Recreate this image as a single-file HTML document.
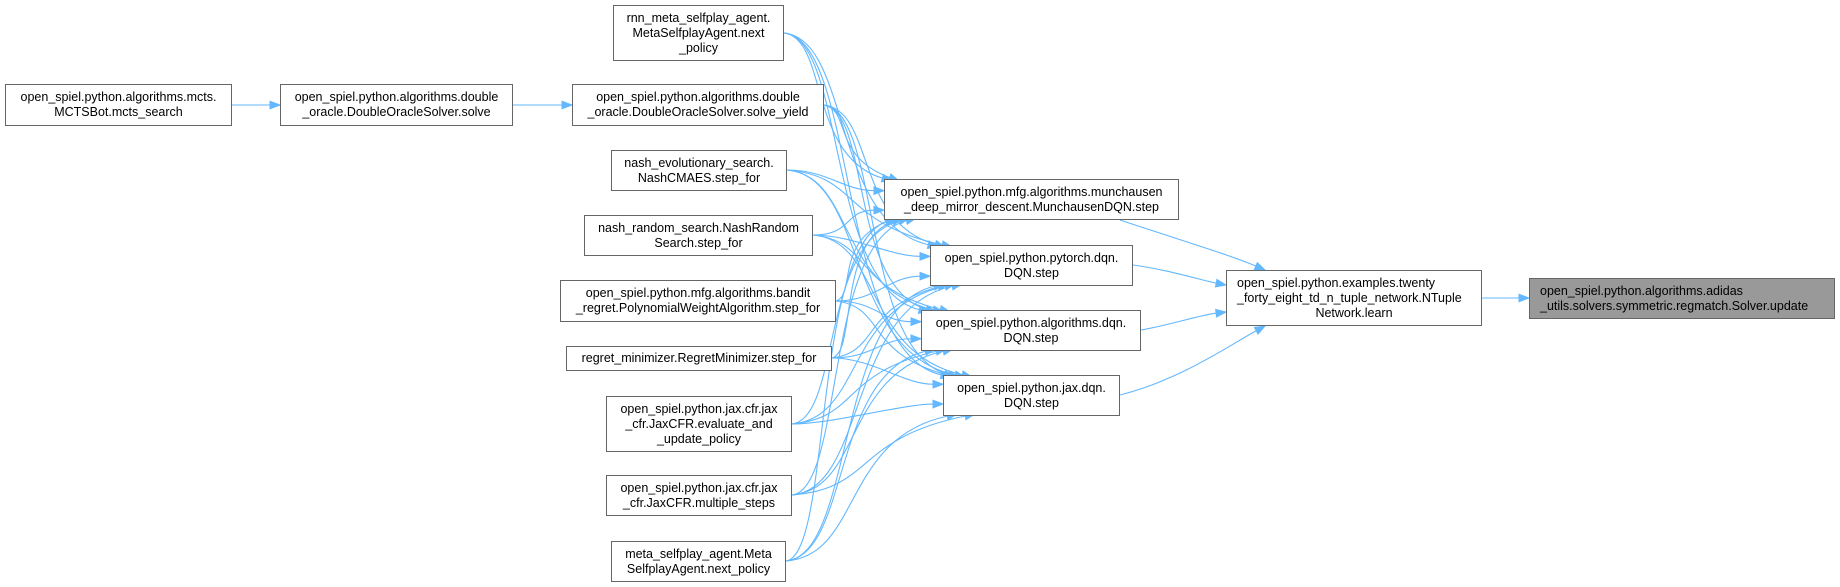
<!DOCTYPE html>
<html><head><meta charset="utf-8">
<style>
body{margin:0;background:#fff;width:1840px;height:587px;overflow:hidden;position:relative;font-family:"Liberation Sans",Arial,sans-serif;}
.n{position:absolute;box-sizing:border-box;border:1.5px solid #666;background:#fff;font-size:12.5px;line-height:15px;color:#000;text-align:center;display:flex;flex-direction:column;justify-content:center;white-space:nowrap;}
.l{text-align:left;padding-left:16px;}
svg{position:absolute;left:0;top:0;}
</style></head><body>
<svg id="s" width="1840" height="587"></svg>
<div class="n" style="left:5px;top:84px;width:227px;height:42px">open_spiel.python.algorithms.mcts.<br>MCTSBot.mcts_search</div>
<div class="n" style="left:280px;top:84px;width:233px;height:42px">open_spiel.python.algorithms.double<br>_oracle.DoubleOracleSolver.solve</div>
<div class="n" style="left:572px;top:84px;width:252px;height:42px">open_spiel.python.algorithms.double<br>_oracle.DoubleOracleSolver.solve_yield</div>
<div class="n" style="left:613px;top:5px;width:171px;height:56px">rnn_meta_selfplay_agent.<br>MetaSelfplayAgent.next<br>_policy</div>
<div class="n" style="left:611px;top:150px;width:176px;height:41px">nash_evolutionary_search.<br>NashCMAES.step_for</div>
<div class="n" style="left:584px;top:215px;width:229px;height:41px">nash_random_search.NashRandom<br>Search.step_for</div>
<div class="n" style="left:560px;top:280px;width:276px;height:42px">open_spiel.python.mfg.algorithms.bandit<br>_regret.PolynomialWeightAlgorithm.step_for</div>
<div class="n" style="left:566px;top:346px;width:266px;height:25px">regret_minimizer.RegretMinimizer.step_for</div>
<div class="n" style="left:606px;top:396px;width:186px;height:56px">open_spiel.python.jax.cfr.jax<br>_cfr.JaxCFR.evaluate_and<br>_update_policy</div>
<div class="n" style="left:606px;top:475px;width:186px;height:41px">open_spiel.python.jax.cfr.jax<br>_cfr.JaxCFR.multiple_steps</div>
<div class="n" style="left:611px;top:541px;width:175px;height:41px">meta_selfplay_agent.Meta<br>SelfplayAgent.next_policy</div>
<div class="n" style="left:884px;top:179px;width:295px;height:41px">open_spiel.python.mfg.algorithms.munchausen<br>_deep_mirror_descent.MunchausenDQN.step</div>
<div class="n" style="left:930px;top:245px;width:203px;height:41px">open_spiel.python.pytorch.dqn.<br>DQN.step</div>
<div class="n" style="left:921px;top:310px;width:220px;height:41px">open_spiel.python.algorithms.dqn.<br>DQN.step</div>
<div class="n" style="left:943px;top:375px;width:177px;height:41px">open_spiel.python.jax.dqn.<br>DQN.step</div>
<div class="n" style="left:1226px;top:270px;width:256px;height:56px"><div class="l" style="padding-left:10px">open_spiel.python.examples.twenty<br>_forty_eight_td_n_tuple_network.NTuple</div><div>Network.learn</div></div>
<div class="n l" style="left:1529px;top:278px;width:306px;height:41px;background:#999;padding-left:10px">open_spiel.python.algorithms.adidas<br>_utils.solvers.symmetric.regmatch.Solver.update</div>
<script>
var s=document.getElementById('s'),NS='http://www.w3.org/2000/svg',C='#63b8ff';
function edge(x1,y1,c1x,c1y,c2x,c2y,x2,y2){
 var dx=x2-c2x,dy=y2-c2y,L=Math.sqrt(dx*dx+dy*dy)||1;dx/=L;dy/=L;
 var ex=x2-dx*10,ey=y2-dy*10;
 var p=document.createElementNS(NS,'path');
 p.setAttribute('d','M'+x1+','+y1+' C'+c1x+','+c1y+' '+c2x+','+c2y+' '+ex+','+ey);
 p.setAttribute('fill','none');p.setAttribute('stroke',C);p.setAttribute('stroke-width','1.1');s.appendChild(p);
 var g=document.createElementNS(NS,'polygon'),px=-dy*3.8,py=dx*3.8;
 g.setAttribute('points',x2+','+y2+' '+(ex+px)+','+(ey+py)+' '+(ex-px)+','+(ey-py));
 g.setAttribute('fill',C);g.setAttribute('stroke',C);s.appendChild(g);
}
var src=[[784,33],[824,105],[787,170],[813,235],[836,301],[832,358],[792,424],[792,495],[786,561]];
var tg=[[884,179,220],[930,245,286],[921,310,351],[943,375,416]];
tg.forEach(function(t,ti){
 var cy=(t[1]+t[2])/2;
 src.forEach(function(a,i){
  var d=a[1]-cy,tx,ty;
  if(Math.abs(d)<70){tx=t[0];ty=cy+Math.max(-14,Math.min(14,d*0.3));
   edge(a[0],a[1],a[0]+40,a[1],tx-40,ty,tx,ty);}
  else{tx=t[0]+8+((i*7)%25);ty=d<0?t[1]+2:t[2]-2;
   var mx=(a[0]+tx)/2-10;
   edge(a[0],a[1],mx,a[1]+(d<0?6:-6),mx-20,ty+(d<0?-25:25),tx,ty);}
 });
});
edge(232,105,250,105,262,105,280,105);
edge(513,105,535,105,550,105,572,105);
edge(1120,220,1180,240,1230,255,1265,270);
edge(1133,265,1170,270,1200,280,1226,285);
edge(1141,330,1170,325,1200,315,1226,312);
edge(1120,395,1180,380,1230,345,1265,326);
edge(1482,298,1500,298,1510,298,1529,298);
</script>
</body></html>
